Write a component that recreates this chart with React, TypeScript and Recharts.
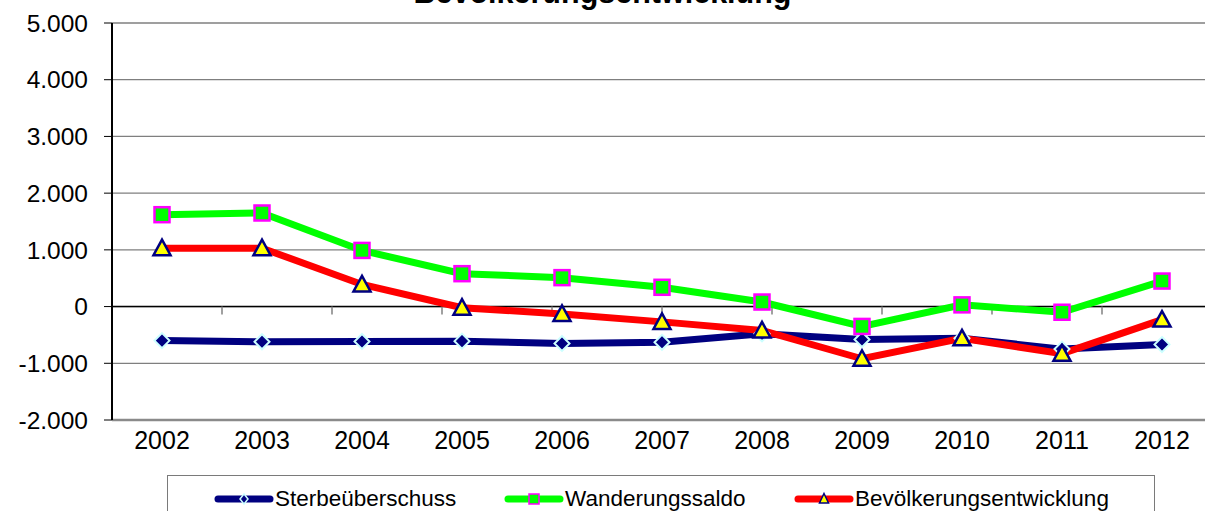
import React from 'react';
import {
  LineChart,
  Line,
  XAxis,
  YAxis,
  CartesianGrid,
  ReferenceLine,
} from 'recharts';

// Jahre (Kategorien)
const years = ['2002', '2003', '2004', '2005', '2006', '2007', '2008', '2009', '2010', '2011', '2012'];

// Werte je Reihe
const sterbeueberschuss = [-600, -620, -615, -610, -650, -630, -480, -580, -560, -750, -670];
const wanderungssaldo = [1620, 1650, 990, 580, 510, 340, 80, -350, 30, -100, 450];
const bevoelkerungsentwicklung = [1030, 1030, 390, -20, -130, -270, -420, -920, -560, -830, -230];

// Achsenbeschriftungen
const yTicks = [-2000, -1000, 0, 1000, 2000, 3000, 4000, 5000];
const categoryBounds = [1, 2, 3, 4, 5, 6, 7, 8, 9, 10];

const title = 'Bevölkerungsentwicklung';
const seriesNames = ['Sterbeüberschuss', 'Wanderungssaldo', 'Bevölkerungsentwicklung'];

const data = years.map((year, i) => ({
  year,
  sterbe: sterbeueberschuss[i],
  wanderung: wanderungssaldo[i],
  bevoelkerung: bevoelkerungsentwicklung[i],
}));

const FONT = 'Arial, "Liberation Sans", sans-serif';
const NAVY = '#000080';
const GREEN = '#00ff00';
const RED = '#ff0000';

// Deutsche Tausenderpunkte
const formatDe = (v: number) => {
  const s = Math.abs(v)
    .toString()
    .replace(/\B(?=(\d{3})+(?!\d))/g, '.');
  return (v < 0 ? '-' : '') + s;
};

const DiamondDot = (props: any) => {
  const { cx, cy, index } = props;
  if (cx == null || cy == null) return null;
  const r = 7.5;
  return (
    <path
      key={`dia-${index}`}
      d={`M${cx},${cy - r}L${cx + r},${cy}L${cx},${cy + r}L${cx - r},${cy}Z`}
      fill={NAVY}
      stroke="#ccffff"
      strokeWidth={2}
    />
  );
};

const SquareDot = (props: any) => {
  const { cx, cy, index } = props;
  if (cx == null || cy == null) return null;
  const s = 15;
  return (
    <rect
      key={`sq-${index}`}
      x={cx - s / 2}
      y={cy - s / 2}
      width={s}
      height={s}
      fill={GREEN}
      stroke="#ff00ff"
      strokeWidth={2.5}
    />
  );
};

const TriangleDot = (props: any) => {
  const { cx, cy, index } = props;
  if (cx == null || cy == null) return null;
  return (
    <path
      key={`tri-${index}`}
      d={`M${cx},${cy - 8.5}L${cx + 8.5},${cy + 7}L${cx - 8.5},${cy + 7}Z`}
      fill="#ffff00"
      stroke={NAVY}
      strokeWidth={2.5}
      strokeLinejoin="miter"
    />
  );
};

const legendItems = [
  { name: seriesNames[0], color: NAVY, marker: 'diamond', left: 50 },
  { name: seriesNames[1], color: GREEN, marker: 'square', left: 340 },
  { name: seriesNames[2], color: RED, marker: 'triangle', left: 630 },
];

const LegendMarker = ({ color, marker }: { color: string; marker: string }) => (
  <svg width={60} height={16} style={{ display: 'block' }}>
    <line x1={4} y1={8} x2={56} y2={8} stroke={color} strokeWidth={7} strokeLinecap="round" />
    {marker === 'diamond' && (
      <path d="M30,3L34,8L30,13L26,8Z" fill={NAVY} stroke="#ccffff" strokeWidth={1.5} />
    )}
    {marker === 'square' && (
      <rect x={25} y={3} width={10} height={10} fill={GREEN} stroke="#ff00ff" strokeWidth={1.5} />
    )}
    {marker === 'triangle' && (
      <path d="M30,2.5L34.5,12L25.5,12Z" fill="#ffff00" stroke={NAVY} strokeWidth={1.5} />
    )}
  </svg>
);

export default function App() {
  return (
    <div
      style={{
        position: 'absolute',
        left: 0,
        top: 0,
        width: 1205,
        height: 511,
        overflow: 'hidden',
        background: '#ffffff',
        fontFamily: FONT,
      }}
    >
      <div
        style={{
          position: 'absolute',
          left: 0,
          width: 1205,
          top: -23,
          lineHeight: '30px',
          fontSize: 30.5,
          fontWeight: 'bold',
          textAlign: 'center',
          color: '#000',
        }}
      >
        {title}
      </div>

      <LineChart
        width={1230}
        height={511}
        data={data}
        margin={{ top: 23, right: 18, bottom: 61, left: 0 }}
        style={{ position: 'absolute', left: 0, top: 0 }}
      >
        <CartesianGrid vertical={false} stroke="#7f7f7f" strokeWidth={1.3} />
        <XAxis
          dataKey="year"
          height={30}
          padding={{ left: 50, right: 50 }}
          tickLine={false}
          tickSize={0}
          tickMargin={11}
          axisLine={{ stroke: '#8a8a8a', strokeWidth: 2.5 }}
          tick={{ fill: '#000', fontSize: 25, fontFamily: FONT }}
          interval={0}
        />
        <XAxis xAxisId="bounds" type="number" domain={[0, 11]} hide />
        <YAxis
          width={112}
          domain={[-2000, 5000]}
          ticks={yTicks}
          interval={0}
          tickFormatter={formatDe}
          tickSize={8}
          tickMargin={16}
          tickLine={{ stroke: '#000' }}
          axisLine={{ stroke: '#000', strokeWidth: 2 }}
          tick={{ fill: '#000', fontSize: 24.5, fontFamily: FONT }}
        />
        <ReferenceLine y={0} stroke="#000" strokeWidth={1.5} />
        {categoryBounds.map((b) => (
          <ReferenceLine
            key={`b-${b}`}
            xAxisId="bounds"
            segment={[
              { x: b, y: 0 },
              { x: b, y: -140 },
            ]}
            stroke="#808080"
            strokeWidth={1.5}
          />
        ))}
        <Line
          type="linear"
          dataKey="sterbe"
          name={seriesNames[0]}
          stroke={NAVY}
          strokeWidth={7}
          dot={DiamondDot}
          activeDot={false}
          isAnimationActive={false}
        />
        <Line
          type="linear"
          dataKey="wanderung"
          name={seriesNames[1]}
          stroke={GREEN}
          strokeWidth={7}
          dot={SquareDot}
          activeDot={false}
          isAnimationActive={false}
        />
        <Line
          type="linear"
          dataKey="bevoelkerung"
          name={seriesNames[2]}
          stroke={RED}
          strokeWidth={7}
          dot={TriangleDot}
          activeDot={false}
          isAnimationActive={false}
        />
      </LineChart>

      <div
        style={{
          position: 'absolute',
          left: 167,
          top: 475,
          width: 988,
          height: 50,
          border: '1.5px solid #7a7a7a',
          boxSizing: 'border-box',
          background: '#fff',
        }}
      >
        {legendItems.map((it) => (
          <div
            key={it.name}
            style={{
              position: 'absolute',
              left: it.left - 4,
              top: 10,
              display: 'flex',
              alignItems: 'center',
              height: 26,
            }}
          >
            <LegendMarker color={it.color} marker={it.marker} />
            <span style={{ fontSize: 22.5, color: '#000', marginLeft: 1, whiteSpace: 'nowrap' }}>
              {it.name}
            </span>
          </div>
        ))}
      </div>
    </div>
  );
}
